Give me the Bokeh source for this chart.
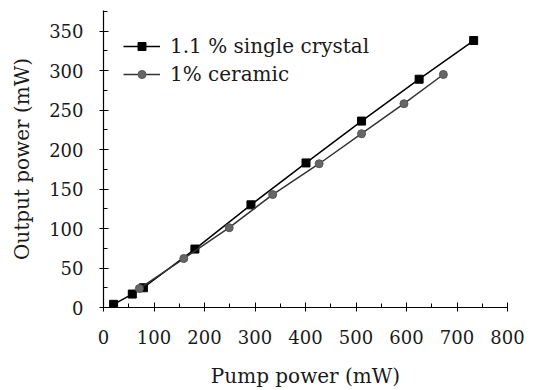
from bokeh.plotting import figure
from bokeh.models import Range1d, Legend, LegendItem, SingleIntervalTicker
from bokeh.embed import file_html
from bokeh.resources import INLINE

crystal_x = [20, 57, 79, 181, 292, 401, 511, 625, 733]
crystal_y = [4, 17, 25, 74, 130, 183, 236, 289, 338]
ceramic_x = [71, 159, 249, 335, 427, 511, 595, 673]
ceramic_y = [24, 62, 101, 143, 182, 220, 258, 295]

FONT = "DejaVu Serif"

p = figure(width=526, height=390, output_backend="svg", toolbar_location=None,
           x_range=Range1d(0, 800), y_range=Range1d(0, 376),
           min_border_left=103, min_border_right=19, min_border_top=10, min_border_bottom=82)
p.outline_line_color = None
p.xgrid.visible = False
p.ygrid.visible = False
p.background_fill_color = "white"

p.xaxis.ticker = SingleIntervalTicker(interval=100, num_minor_ticks=2)
p.yaxis.ticker = SingleIntervalTicker(interval=50, num_minor_ticks=2)

for ax in (p.xaxis[0], p.yaxis[0]):
    ax.axis_line_color = "black"
    ax.axis_line_width = 1.2
    ax.major_tick_in = 5
    ax.major_tick_out = 4
    ax.minor_tick_in = 4
    ax.minor_tick_out = 0
    ax.major_tick_line_color = "black"
    ax.minor_tick_line_color = "black"
    ax.major_label_text_font = FONT
    ax.major_label_text_font_size = "18px"
    ax.major_label_text_color = "#1a1a1a"
    ax.axis_label_text_font = FONT
    ax.axis_label_text_font_size = "20px"
    ax.axis_label_text_font_style = "normal"
    ax.axis_label_text_color = "#1a1a1a"

p.xaxis.axis_label = "Pump power (mW)"
p.yaxis.axis_label = "Output power (mW)"
p.xaxis.major_label_standoff = 18
p.xaxis.axis_label_standoff = 17
p.yaxis.major_label_standoff = 16
p.yaxis.axis_label_standoff = 12

l1 = p.line(crystal_x, crystal_y, line_color="black", line_width=1.5)
m1 = p.scatter(crystal_x, crystal_y, marker="square", size=8, fill_color="black", line_color="black")
l2 = p.line(ceramic_x, ceramic_y, line_color="#333333", line_width=1.5)
m2 = p.scatter(ceramic_x, ceramic_y, marker="circle", size=8, fill_color="#666666", line_color="#555555")

legend = Legend(items=[
    LegendItem(label="1.1 % single crystal", renderers=[l1, m1]),
    LegendItem(label="1% ceramic", renderers=[l2, m2]),
], location=(20, 221))
legend.padding = 0
legend.margin = 0
legend.border_line_color = None
legend.background_fill_alpha = 0
legend.glyph_width = 37
legend.glyph_height = 20
legend.label_height = 20
legend.spacing = 4
legend.label_standoff = 10
legend.label_text_font = FONT
legend.label_text_font_size = "20px"
legend.label_text_color = "#1a1a1a"
p.add_layout(legend, "center")

open("out.html", "w").write(file_html(p, INLINE))
